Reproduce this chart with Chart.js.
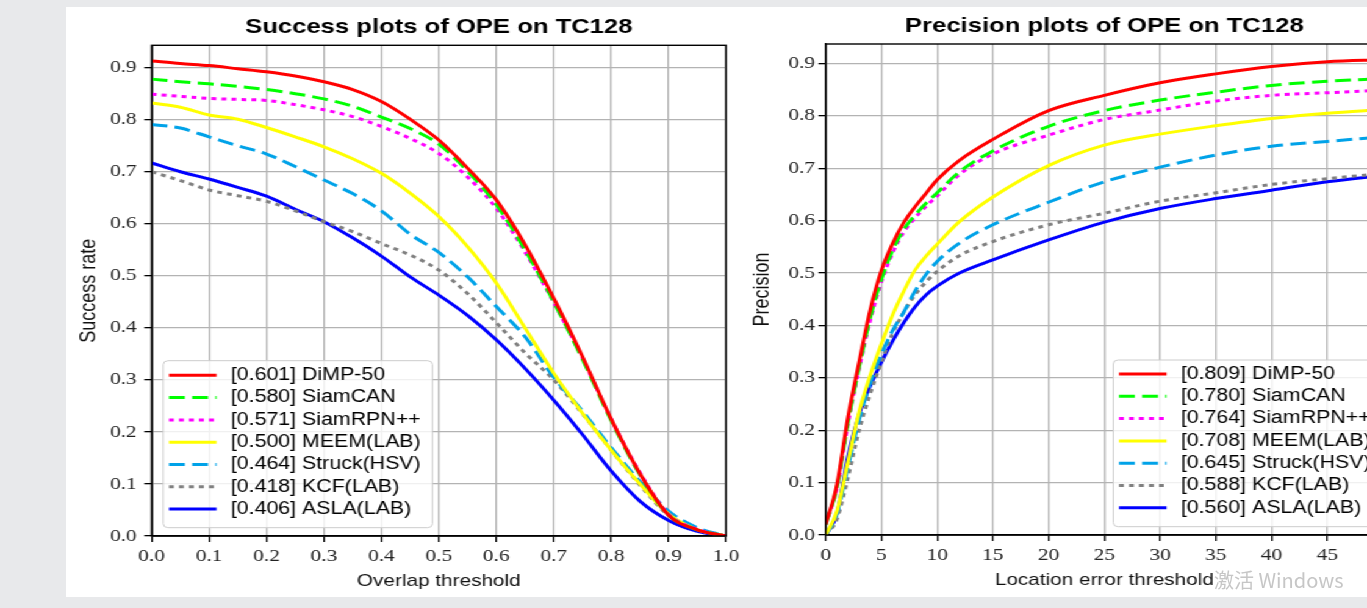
<!DOCTYPE html>
<html>
<head>
<meta charset="utf-8">
<script src="https://cdn.jsdelivr.net/npm/chart.js@4.4.1/dist/chart.umd.min.js"></script>
<style>
  html, body { margin: 0; padding: 0; width: 1367px; height: 608px; overflow: hidden; background: #e8e9eb; }
  #panel { position: absolute; left: 66px; top: 7px; width: 1301px; height: 590px; background: #fff; }
  /* the source picture is stretched sideways, so both charts are too */
  #stretch { position: absolute; left: 0; top: 0; width: 1160px; height: 608px; transform: scaleX(1.22); transform-origin: 0 0; }
  #successCanvas { position: absolute; left: 50px; top: 0; }
  #precisionCanvas { position: absolute; left: 610px; top: 0; }
  #wm { position: absolute; left: 1214px; top: 565px; font: 20px "Noto Sans CJK SC", "Liberation Sans", sans-serif; color: #c6c6c6; white-space: nowrap; }
</style>
</head>
<body>
<div id="panel"></div>
<div id="stretch">
  <canvas id="successCanvas" width="570" height="600"></canvas>
  <canvas id="precisionCanvas" width="540" height="600"></canvas>
</div>
<div id="wm">激活 Windows</div>
<script>
// ---------- data ----------
const trackerNames = ["DiMP-50", "SiamCAN", "SiamRPN++", "MEEM(LAB)", "Struck(HSV)", "KCF(LAB)", "ASLA(LAB)"];
const successScores = ["0.601", "0.580", "0.571", "0.500", "0.464", "0.418", "0.406"];
const precisionScores = ["0.809", "0.780", "0.764", "0.708", "0.645", "0.588", "0.560"];

// success plot (x = overlap threshold)
const overlapThresholds = [0, 0.05, 0.1, 0.15, 0.2, 0.25, 0.3, 0.35, 0.4, 0.45, 0.5, 0.55, 0.6, 0.65, 0.7, 0.75, 0.8, 0.85, 0.9, 0.95, 1.0];
const successDiMP   = [0.913, 0.908, 0.904, 0.898, 0.892, 0.884, 0.873, 0.858, 0.835, 0.801, 0.761, 0.707, 0.646, 0.560, 0.457, 0.345, 0.225, 0.120, 0.040, 0.012, 0];
const successCAN    = [0.878, 0.873, 0.869, 0.864, 0.858, 0.850, 0.840, 0.826, 0.805, 0.783, 0.753, 0.701, 0.637, 0.550, 0.450, 0.340, 0.222, 0.118, 0.040, 0.012, 0];
const successRPN    = [0.849, 0.845, 0.841, 0.839, 0.837, 0.829, 0.819, 0.806, 0.787, 0.764, 0.735, 0.690, 0.630, 0.546, 0.449, 0.342, 0.225, 0.122, 0.042, 0.013, 0];
const successMEEM   = [0.832, 0.824, 0.809, 0.801, 0.785, 0.767, 0.748, 0.725, 0.697, 0.659, 0.614, 0.556, 0.486, 0.400, 0.313, 0.236, 0.165, 0.100, 0.042, 0.012, 0];
const successStruck = [0.791, 0.784, 0.767, 0.750, 0.734, 0.710, 0.684, 0.658, 0.625, 0.580, 0.545, 0.498, 0.441, 0.383, 0.305, 0.240, 0.170, 0.105, 0.048, 0.016, 0];
const successKCF    = [0.700, 0.683, 0.665, 0.654, 0.643, 0.625, 0.604, 0.585, 0.562, 0.540, 0.511, 0.466, 0.410, 0.352, 0.300, 0.235, 0.165, 0.098, 0.040, 0.012, 0];
const successASLA   = [0.717, 0.700, 0.686, 0.670, 0.653, 0.628, 0.604, 0.573, 0.538, 0.498, 0.463, 0.424, 0.377, 0.322, 0.261, 0.195, 0.125, 0.067, 0.030, 0.009, 0];

// precision plot (x = location error threshold)
const errorThresholds = [0, 1, 2, 3, 4, 5, 6, 7, 8, 9, 10, 12, 15, 20, 25, 30, 35, 40, 45, 50];
const precisionDiMP   = [0.020, 0.095, 0.225, 0.330, 0.430, 0.505, 0.556, 0.596, 0.626, 0.652, 0.678, 0.715, 0.755, 0.810, 0.839, 0.863, 0.880, 0.894, 0.903, 0.907];
const precisionCAN    = [0.020, 0.090, 0.215, 0.320, 0.415, 0.488, 0.543, 0.583, 0.610, 0.633, 0.653, 0.693, 0.733, 0.780, 0.810, 0.830, 0.845, 0.858, 0.866, 0.871];
const precisionRPN    = [0.020, 0.090, 0.212, 0.318, 0.410, 0.483, 0.538, 0.578, 0.605, 0.627, 0.647, 0.688, 0.727, 0.763, 0.793, 0.811, 0.828, 0.839, 0.844, 0.849];
const precisionMEEM   = [0, 0.045, 0.140, 0.235, 0.305, 0.365, 0.420, 0.465, 0.505, 0.532, 0.555, 0.598, 0.645, 0.705, 0.744, 0.765, 0.781, 0.795, 0.805, 0.812];
const precisionStruck = [0, 0.040, 0.130, 0.220, 0.290, 0.345, 0.390, 0.425, 0.465, 0.497, 0.522, 0.557, 0.592, 0.635, 0.674, 0.702, 0.725, 0.742, 0.751, 0.760];
const precisionKCF    = [0, 0.030, 0.110, 0.200, 0.270, 0.330, 0.385, 0.425, 0.458, 0.483, 0.503, 0.533, 0.560, 0.592, 0.614, 0.637, 0.653, 0.669, 0.680, 0.690];
const precisionASLA   = [0, 0.040, 0.150, 0.230, 0.285, 0.330, 0.370, 0.405, 0.435, 0.458, 0.475, 0.500, 0.525, 0.563, 0.597, 0.623, 0.642, 0.658, 0.674, 0.686];

// ---------- styles ----------
const lineColors = ["#ff0000", "#00ff00", "#ff00ff", "#ffff00", "#00a2e8", "#808080", "#0000ff"];
const lineDashes = [[], [13, 6], [4, 4.2], [], [13, 6], [4, 4.2], []];
const SANS = '"Liberation Sans", Arial, sans-serif';
const SERIF = '"Liberation Serif", "DejaVu Serif", serif';

// legend drawn inside the plot area, from the datasets
const insideLegend = {
    id: "insideLegend",
    afterDatasetsDraw(chart, args, opt) {
        const { ctx, chartArea: a } = chart;
        const sets = chart.data.datasets;
        ctx.save();
        ctx.font = `${opt.fontSize}px ${SANS}`;
        const textW = Math.max(...sets.map(d => ctx.measureText(d.label).width));
        const w = opt.padLeft + opt.handle + opt.gap + textW + opt.padRight;
        const x = a.left + opt.offsetX;
        const y = a.bottom - opt.offsetBottom - opt.height;
        ctx.beginPath();
        ctx.roundRect(x, y, w, opt.height, 4);
        ctx.fillStyle = "rgba(255,255,255,0.8)";
        ctx.fill();
        ctx.lineWidth = 1;
        ctx.strokeStyle = "#cccccc";
        ctx.stroke();
        sets.forEach((d, i) => {
            const cy = y + opt.firstRow + i * opt.rowGap;
            ctx.beginPath();
            ctx.setLineDash(d.borderDash || []);
            ctx.strokeStyle = d.borderColor;
            ctx.lineWidth = d.borderWidth;
            ctx.moveTo(x + opt.padLeft, cy);
            ctx.lineTo(x + opt.padLeft + opt.handle, cy);
            ctx.stroke();
            ctx.setLineDash([]);
            ctx.fillStyle = "#000";
            ctx.textBaseline = "middle";
            ctx.fillText(d.label, x + opt.padLeft + opt.handle + opt.gap, cy);
        });
        ctx.restore();
    }
};

// black box round the axes
const axesFrame = {
    id: "axesFrame",
    afterDraw(chart) {
        const { ctx, chartArea: a } = chart;
        ctx.save();
        ctx.strokeStyle = "#000";
        ctx.lineWidth = 1.4;
        ctx.strokeRect(a.left, a.top, a.right - a.left, a.bottom - a.top);
        ctx.restore();
    }
};

function buildChart(id, cfg) {
    const datasets = cfg.series.map((ys, i) => ({
        label: `[${cfg.scores[i]}] ${trackerNames[i]}`,
        data: cfg.xs.map((x, j) => ({ x, y: ys[j] })),
        borderColor: lineColors[i],
        borderDash: lineDashes[i],
        borderWidth: 3,
        pointRadius: 0,
        fill: false,
        cubicInterpolationMode: "monotone"
    }));
    // draw the first tracker on top, like the original
    const order = datasets.map((d, i) => Object.assign(d, { order: i }));

    return new Chart(document.getElementById(id), {
        type: "line",
        data: { datasets: order },
        options: {
            responsive: false,
            animation: false,
            events: [],
            layout: { padding: { top: cfg.padTop, bottom: cfg.padBottom, left: 0, right: cfg.padRight } },
            scales: {
                x: {
                    type: "linear",
                    min: cfg.xMin,
                    max: cfg.xMax,
                    afterFit: s => { s.height = 64; s.paddingLeft = 0; s.paddingRight = 0; },
                    ticks: {
                        stepSize: cfg.xStep,
                        autoSkip: false,
                        maxRotation: 0,
                        padding: 3.8,
                        color: "#222",
                        font: { family: SERIF, size: 17.5 },
                        callback: v => v.toFixed(cfg.xDecimals)
                    },
                    grid: { color: "#b3b3b3", lineWidth: 1.3, tickLength: 6, tickColor: "#000", tickWidth: 1.3 },
                    border: { color: "#000", width: 1.4 },
                    title: {
                        display: true,
                        text: cfg.xTitle,
                        color: "#111",
                        font: { family: SANS, size: 17 },
                        padding: { top: 0, bottom: cfg.xTitlePad }
                    }
                },
                y: {
                    min: 0,
                    max: cfg.yMax,
                    afterFit: s => { s.width = cfg.yWidth; s.paddingTop = 0; s.paddingBottom = 0; },
                    ticks: {
                        stepSize: 0.1,
                        includeBounds: false,
                        padding: cfg.yTickPad,
                        color: "#222",
                        font: { family: SERIF, size: 17.5 },
                        callback: v => v.toFixed(1)
                    },
                    grid: { color: "#b3b3b3", lineWidth: 1.3, tickLength: 6, tickColor: "#000", tickWidth: 1.3 },
                    border: { color: "#000", width: 1.4 },
                    title: {
                        display: true,
                        text: cfg.yTitle,
                        color: "#111",
                        font: { family: SANS, size: 18 },
                        padding: { top: cfg.yTitlePad, bottom: 0 }
                    }
                }
            },
            plugins: {
                legend: { display: false },
                tooltip: { enabled: false },
                title: {
                    display: true,
                    text: cfg.title,
                    fullSize: false,
                    color: "#000",
                    font: { family: SANS, size: 21, weight: "bold" },
                    padding: { top: 11, bottom: 5 }
                },
                insideLegend: Object.assign({
                    fontSize: 17.5, padLeft: 4.7, handle: 39, gap: 11.7, padRight: 9.6,
                    height: 167, firstRow: 14.6, rowGap: 22.3, offsetBottom: 8.3
                }, cfg.legend)
            }
        },
        plugins: [insideLegend, axesFrame]
    });
}

buildChart("successCanvas", {
    xs: overlapThresholds,
    series: [successDiMP, successCAN, successRPN, successMEEM, successStruck, successKCF, successASLA],
    scores: successScores,
    xMin: 0, xMax: 1, xStep: 0.1, xDecimals: 1,
    yMax: 0.943,
    title: "Success plots of OPE on TC128",
    xTitle: "Overlap threshold",
    yTitle: "Success rate",
    padTop: 4.1, padBottom: 0, padRight: 24.9,
    yWidth: 74.3, yTickPad: 6.3, yTitlePad: 12.5, xTitlePad: 8.1,
    legend: { offsetX: 9.5 }
});

buildChart("precisionCanvas", {
    xs: errorThresholds,
    series: [precisionDiMP, precisionCAN, precisionRPN, precisionMEEM, precisionStruck, precisionKCF, precisionASLA],
    scores: precisionScores,
    xMin: 0, xMax: 50, xStep: 5, xDecimals: 0,
    yMax: 0.937,
    title: "Precision plots of OPE on TC128",
    xTitle: "Location error threshold",
    yTitle: "Precision",
    padTop: 2.8, padBottom: 1, padRight: 16.4,
    yWidth: 66.8, yTickPad: 2.8, yTitlePad: 4.5, xTitlePad: 8.8,
    legend: { offsetX: 235.7, firstRow: 14, height: 166.7 }
});
</script>
</body>
</html>
